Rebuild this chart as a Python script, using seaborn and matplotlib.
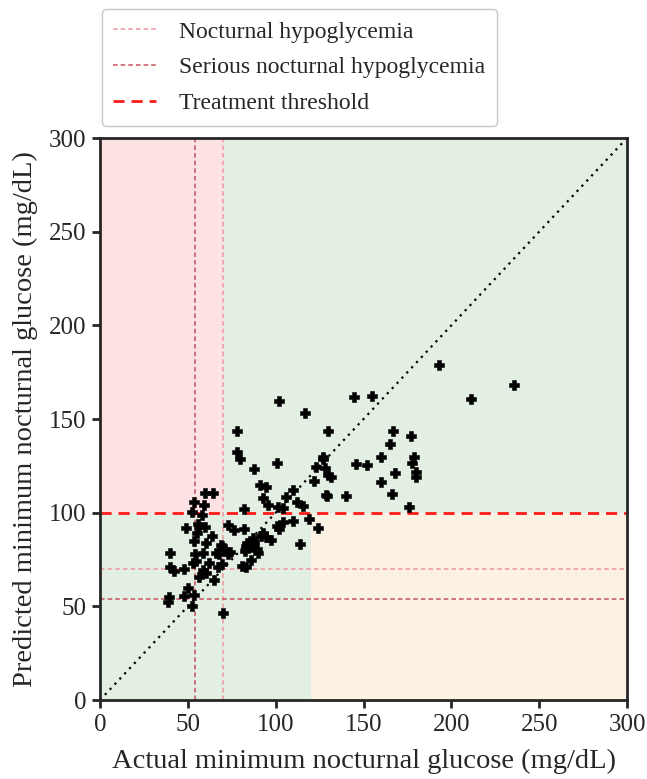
import matplotlib
matplotlib.use('Agg')
import matplotlib.pyplot as plt
import numpy as np
import pandas as pd
import seaborn as sns

# actual vs predicted minimum nocturnal glucose (mg/dL)
actual = [101.7, 116.7, 78.0, 129.8, 78.0, 79.7, 100.7, 87.6, 127.0, 127.0,
          123.0, 128.0, 129.8, 131.5, 121.8, 91.0, 94.5, 92.8, 95.6, 105.9,
          109.8, 112.0, 115.5, 101.3, 104.0, 128.6, 82.0, 119.0, 124.0, 113.8,
          109.8, 104.0, 101.9, 100.7, 72.8, 76.3, 82.0, 92.8, 91.6, 94.5,
          97.3, 87.0, 87.6, 83.7, 83.0, 86.0, 89.3, 82.5, 90.0, 74.0,
          69.4, 70.6, 67.7, 72.8, 69.4, 67.2, 80.8, 83.0, 86.0, 59.8,
          64.3, 53.5, 59.2, 52.4, 58.0, 55.8, 56.3, 60.0, 49.0, 55.2,
          63.7, 53.5, 60.3, 68.9, 39.8, 54.0, 58.6, 66.0, 54.6, 62.0,
          39.8, 42.0, 47.8, 52.9, 58.6, 60.3, 56.3, 64.9, 50.0, 53.5,
          47.8, 39.3, 38.7, 52.4, 70.0, 193.0, 235.6, 211.0, 144.6, 154.8,
          166.8, 177.0, 165.0, 160.0, 178.7, 177.6, 145.7, 152.0, 168.0, 180.0,
          180.0, 160.0, 129.2, 140.0, 166.0, 176.0]
predicted = [159.6, 153.0, 143.6, 143.6, 132.4, 128.7, 126.5, 123.3, 129.8, 128.7,
             124.4, 123.9, 120.0, 119.0, 116.9, 114.8, 113.7, 107.8, 104.0, 108.4,
             112.0, 105.7, 103.6, 103.0, 102.5, 109.4, 102.0, 96.6, 91.8, 83.3,
             95.6, 95.0, 91.3, 92.9, 93.4, 90.8, 91.3, 89.2, 87.6, 87.0,
             85.4, 86.5, 84.4, 83.8, 82.2, 81.7, 80.6, 79.6, 78.5, 79.0,
             82.2, 80.6, 78.0, 78.0, 72.6, 71.0, 71.5, 71.0, 74.7, 110.5,
             110.5, 105.7, 104.0, 100.4, 98.8, 94.0, 92.4, 92.4, 91.8, 89.2,
             87.6, 84.9, 83.8, 82.8, 78.5, 78.0, 78.5, 78.5, 74.2, 73.0,
             71.0, 68.9, 69.9, 73.0, 69.4, 67.8, 65.7, 64.0, 59.8, 56.0,
             55.5, 55.0, 52.3, 50.2, 46.4, 178.9, 168.0, 160.7, 161.8, 162.3,
             143.6, 141.0, 136.7, 129.5, 129.7, 126.5, 126.0, 125.5, 121.2, 121.5,
             119.0, 116.4, 108.9, 108.9, 110.0, 103.0]

hypo = 70
serious_hypo = 54
treat = 100
upper = 120
lim = 300

df = pd.DataFrame({'actual': actual, 'predicted': predicted})

sns.set_style('ticks')
plt.rcParams['font.family'] = ['Liberation Serif', 'DejaVu Serif']

fig = plt.figure(figsize=(6.47, 7.79), dpi=100)
ax = fig.add_axes([0.1546, 0.1014, 0.8145, 0.7214])

# shaded regions
ax.axvspan(0, lim, color='#e3efe2', zorder=0, lw=0)
ax.fill_between([0, hypo], treat, lim, color='#fde2e3', zorder=0.5, lw=0)
ax.fill_between([upper, lim], 0, treat, color='#fcf2e3', zorder=0.5, lw=0)

ax.plot([0, lim], [0, lim], ls=(0, (1, 2.2)), color='black', lw=1.6, zorder=1)

c_hypo = '#f0959d'
c_serious = '#c8515e'
l1 = ax.axvline(hypo, color=c_hypo, lw=1.1, dashes=(3, 2), zorder=1,
                label='Nocturnal hypoglycemia')
ax.axhline(hypo, color=c_hypo, lw=1.1, dashes=(3, 2), zorder=1)
l2 = ax.axvline(serious_hypo, color=c_serious, lw=1.1, dashes=(3, 2), zorder=1,
                label='Serious nocturnal hypoglycemia')
ax.axhline(serious_hypo, color=c_serious, lw=1.1, dashes=(3, 2), zorder=1)
l3 = ax.axhline(treat, color='#ff1a1a', lw=2, dashes=(4, 2.5), zorder=1,
                label='Treatment threshold')

sns.scatterplot(data=df, x='actual', y='predicted', marker='P', color='black',
                s=55, edgecolor='black', linewidth=0.4, ax=ax, zorder=3,
                legend=False)

ax.set_xlim(0, lim)
ax.set_ylim(0, lim)
ax.set_xticks(range(0, 301, 50))
ax.set_yticks(range(0, 301, 50))
ax.tick_params(labelsize=18, length=6, width=2, pad=4)
for s in ax.spines.values():
    s.set_linewidth(2)
    s.set_visible(True)
ax.set_xlabel('Actual minimum nocturnal glucose (mg/dL)', fontsize=20.5, labelpad=9)
ax.set_ylabel('Predicted minimum nocturnal glucose (mg/dL)', fontsize=20.5, labelpad=8)

fig.legend(handles=[l1, l2, l3], loc='upper left', bbox_to_anchor=(0.146, 0.997),
           fontsize=17, frameon=True, edgecolor='#bbbbbb', fancybox=True,
           handlelength=1.8, handletextpad=1.0, borderpad=0.5, labelspacing=0.6,
           borderaxespad=0.3)

plt.savefig('out.png', dpi=100)
